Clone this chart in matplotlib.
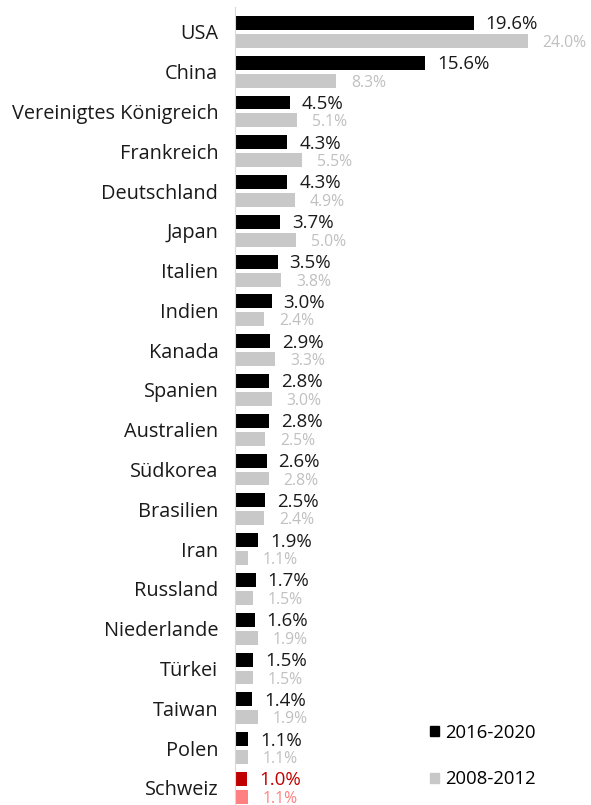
import matplotlib
matplotlib.use("Agg")
import matplotlib.pyplot as plt
from matplotlib.patches import Patch

plt.rcParams['font.family'] = ['Open Sans', 'DejaVu Sans']

countries = ["USA", "China", "Vereinigtes Königreich", "Frankreich", "Deutschland",
             "Japan", "Italien", "Indien", "Kanada", "Spanien", "Australien",
             "Südkorea", "Brasilien", "Iran", "Russland", "Niederlande", "Türkei",
             "Taiwan", "Polen", "Schweiz"]
share_2016_2020 = [19.6, 15.6, 4.5, 4.3, 4.3, 3.7, 3.5, 3.0, 2.9, 2.8, 2.8,
                   2.6, 2.5, 1.9, 1.7, 1.6, 1.5, 1.4, 1.1, 1.0]
share_2008_2012 = [24.0, 8.3, 5.1, 5.5, 4.9, 5.0, 3.8, 2.4, 3.3, 3.0, 2.5,
                   2.8, 2.4, 1.1, 1.5, 1.9, 1.5, 1.9, 1.1, 1.1]
highlight = "Schweiz"

dark, light = "#000000", "#c8c8c8"
dark_hl, light_hl = "#c00000", "#ff8080"

fig = plt.figure(figsize=(5.91, 8.05), dpi=100)
ax = fig.add_axes([235 / 591, 0, 1 - 235 / 591, 1])

h = 0.35
off = 0.225
for i, name in enumerate(countries):
    c1, c2 = (dark_hl, light_hl) if name == highlight else (dark, light)
    t1 = dark_hl if name == highlight else "#1a1a1a"
    t2 = light_hl if name == highlight else "#c0c0c0"
    v1, v2 = share_2016_2020[i], share_2008_2012[i]
    ax.barh(i - off, v1, height=h, color=c1)
    ax.barh(i + off, v2, height=h, color=c2)
    ax.annotate(f"{v1:.1f}%", (v1, i - off), xytext=(8.5, -1), textcoords="offset points",
                ha="left", va="center", fontsize=13.5, color=t1)
    ax.annotate(f"{v2:.1f}%", (v2, i + off), xytext=(10.5, -1.5), textcoords="offset points",
                ha="left", va="center", fontsize=11.3, color=t2)

ax.set_xlim(0, 29.2)
ax.set_ylim(19.43, -0.80)
ax.set_yticks(range(len(countries)))
ax.set_yticklabels(countries, fontsize=14.3, color="#1a1a1a")
ax.tick_params(axis="y", length=0, pad=12)
ax.set_xticks([])
for s in ["top", "right", "bottom"]:
    ax.spines[s].set_visible(False)
ax.spines["left"].set_color("#d9d9d9")
ax.spines["left"].set_bounds(-0.62, 19.43)

handles = [Patch(color=dark, label="2016-2020"), Patch(color=light, label="2008-2012")]
fig.legend(handles=handles, loc="center left", bbox_to_anchor=(0.70, 0.061),
           frameon=False, fontsize=13.3, handlelength=0.45, handleheight=0.45,
           handletextpad=0.35, labelspacing=1.55)

fig.savefig("out.png", dpi=100)
